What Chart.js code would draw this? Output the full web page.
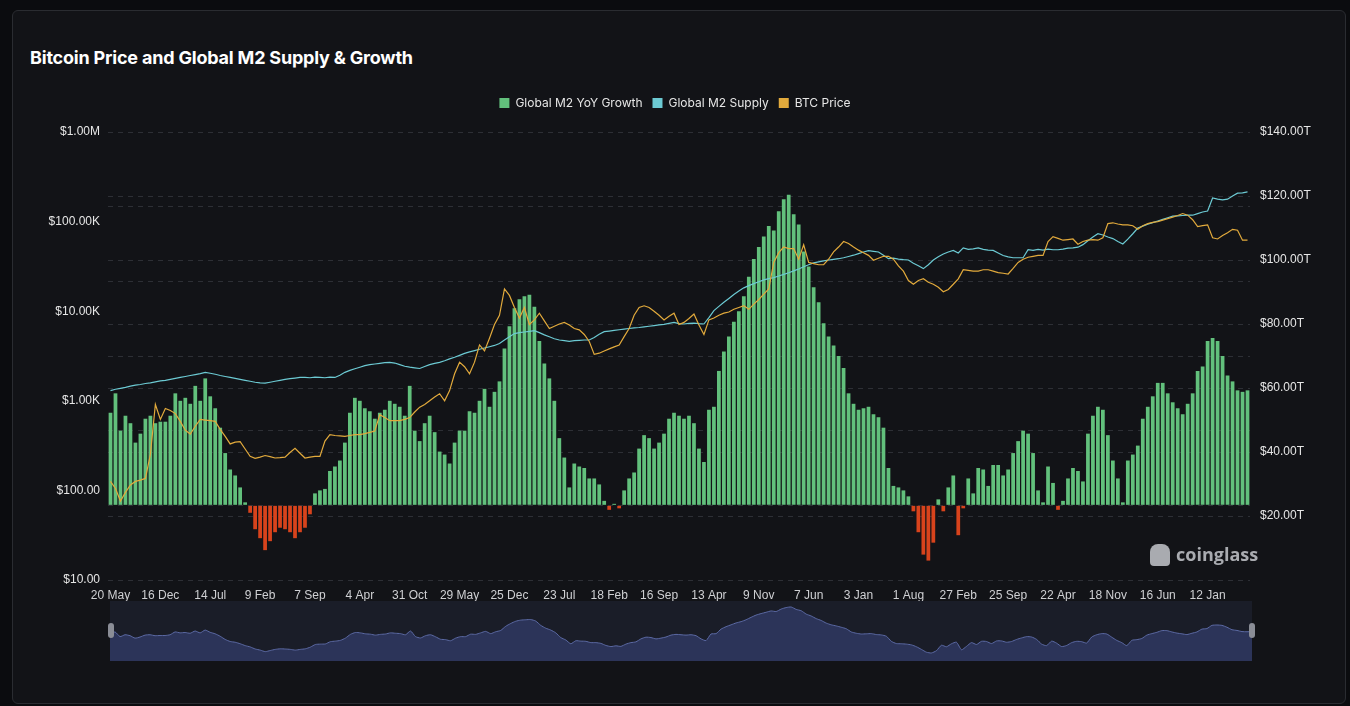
<!DOCTYPE html>
<html><head><meta charset="utf-8">
<script src="https://cdn.jsdelivr.net/npm/chart.js@4.4.1/dist/chart.umd.min.js"></script>
<style>
html,body{margin:0;padding:0;background:#0b0c0f;width:1350px;height:706px;overflow:hidden;font-family:Inter,"Noto Sans",sans-serif}
#card{position:absolute;left:12px;top:10px;width:1332px;height:692px;background:#121317;border:1px solid #2a2c31;border-radius:6px}
#title{position:absolute;left:30px;top:47px;color:#fff;font-weight:700;font-size:18px;letter-spacing:-0.2px}
#main{position:absolute;left:0;top:0}
#navwrap{position:absolute;left:110px;top:601px;width:1142px;height:60px;background:#1a1d28}
#nav{position:absolute;left:0;top:0}
.h{position:absolute;top:623px;width:6px;height:15px;background:#8a8d96;border-radius:3px}
#wm{position:absolute;left:1150px;top:542px;color:#a9abb0;font-weight:700;font-size:18px;font-family:"Open Sans",sans-serif}
#wm span{display:inline-block;width:20px;height:22px;background:#a9abb0;border-radius:8px 8px 4px 4px;vertical-align:-5px;margin-right:6px}
</style></head><body>
<div id="card"></div>
<div id="title">Bitcoin Price and Global M2 Supply &amp; Growth</div>
<canvas id="main" width="1350" height="706"></canvas>
<div id="navwrap"><canvas id="nav" width="1142" height="60"></canvas></div>
<div class="h" style="left:108px"></div><div class="h" style="left:1249px"></div>
<div id="wm"><span></span>coinglass</div>
<script>
const tickLabels=["20 May","16 Dec","14 Jul","9 Feb","7 Sep","4 Apr","31 Oct","29 May","25 Dec","23 Jul","18 Feb","16 Sep","13 Apr","9 Nov","7 Jun","3 Jan","1 Aug","27 Feb","25 Sep","22 Apr","18 Nov","16 Jun","12 Jan"];
const m2Growth=[
6.2,7.5,5.0,6.0,5.5,4.2,4.8,5.8,6.0,5.5,
5.6,5.6,6.0,7.5,7.0,7.2,6.8,8.0,7.0,8.5,
7.3,6.5,5.2,3.5,2.4,2.0,1.2,0.2,-0.5,-1.6,
-2.2,-3.0,-2.4,-1.8,-1.5,-1.6,-1.8,-2.2,-1.8,-1.5,
-0.6,0.8,1.0,1.1,2.3,2.6,3.0,4.2,6.2,7.2,
7.0,6.5,6.3,5.8,6.2,6.4,7.0,6.8,6.6,6.0,
8.0,5.0,4.3,5.5,6.0,4.9,3.6,3.4,2.8,4.2,
5.0,5.0,6.3,6.2,7.0,7.8,6.6,7.6,8.3,10.5,
12.0,13.2,13.8,14.0,14.1,13.3,11.0,9.5,8.5,7.0,
4.5,3.2,1.2,2.8,2.6,2.5,1.8,1.8,1.4,0.3,
-0.3,0.1,-0.2,1.0,1.8,2.2,3.8,4.7,4.5,3.8,
4.2,4.8,5.8,6.2,6.0,5.8,6.0,5.5,3.8,2.9,
6.4,6.6,9.0,10.3,11.3,12.3,13.0,14.0,15.3,16.5,
17.3,18.0,18.7,18.4,19.7,20.5,20.8,19.5,18.8,17.0,
16.0,14.6,13.6,12.2,11.3,10.7,10.0,9.2,7.5,6.8,
6.4,6.5,6.6,6.1,5.9,5.2,2.5,1.3,1.2,1.0,
0.6,-0.4,-1.8,-3.3,-3.7,-2.5,0.4,-0.4,1.2,2.0,
-2.0,-0.2,1.8,0.8,2.5,2.4,1.3,2.7,2.7,2.0,
2.4,3.5,4.3,5.0,4.8,3.5,1.0,0.2,2.6,1.5,
-0.3,0.3,1.8,2.5,2.3,1.6,4.8,6.0,6.6,6.4,
4.7,3.0,1.8,0.2,3.0,3.4,4.0,5.8,6.6,7.3,
8.2,8.2,7.5,6.9,6.5,6.1,6.8,7.5,9.0,9.3,
11.0,11.2,11.0,10.0,8.7,8.3,7.7,7.6,7.7];
const m2Supply=[
59.2,59.6,59.9,60.2,60.6,60.9,61.1,61.4,61.6,61.9,
62.2,62.4,62.7,63.0,63.3,63.6,63.9,64.2,64.5,64.9,
64.6,64.3,63.9,63.6,63.3,63.0,62.7,62.4,62.1,61.8,
61.6,61.5,61.8,62.1,62.4,62.7,62.9,63.1,63.3,63.3,
63.2,63.4,63.3,63.2,63.4,63.3,64.0,64.9,65.5,66.0,
66.5,67.0,67.3,67.5,67.7,67.9,68.0,67.8,67.3,66.8,
66.5,66.3,66.1,66.7,67.3,67.7,68.0,68.5,69.1,69.6,
70.2,70.8,71.3,71.7,72.1,72.5,72.9,73.3,73.9,75.0,
76.0,77.0,77.3,77.5,77.7,77.9,77.3,76.6,76.0,75.4,
75.0,74.8,74.6,74.8,74.9,75.0,75.0,75.8,76.8,77.6,
77.8,78.0,78.2,78.4,78.6,78.8,78.9,79.1,79.3,79.5,
79.7,79.9,80.2,80.5,80.1,80.0,80.2,80.3,80.1,80.0,
82.0,84.2,85.5,86.8,88.0,89.2,90.3,91.3,92.0,92.6,
93.2,93.8,94.2,94.5,95.0,95.5,96.0,96.6,97.2,97.9,
98.5,99.1,99.4,99.7,100.0,100.2,100.4,100.7,101.1,101.5,
102.0,102.5,102.9,102.7,102.5,101.5,100.4,100.6,100.3,100.1,
100.0,99.0,98.2,97.3,98.5,100.0,101.0,101.9,102.5,103.0,
102.2,103.8,103.3,103.5,103.8,103.3,103.1,103.0,102.2,101.4,
101.0,100.7,100.7,100.7,103.2,103.0,103.3,103.1,103.4,103.2,
103.2,103.4,103.7,103.8,104.0,104.8,106.0,107.2,108.2,107.8,
107.2,106.7,105.8,105.0,106.5,108.2,110.0,110.6,111.2,111.7,
112.2,112.7,113.2,113.7,113.8,113.9,114.0,114.0,114.5,115.0,
115.3,119.4,119.0,118.8,119.0,120.0,120.9,121.0,121.3];
const btcPrice=[
126,105,76,95,115,126,130,136,252,910,
620,820,780,720,590,470,425,520,620,610,
600,590,480,400,330,345,350,290,240,228,
235,245,238,230,232,235,265,295,260,230,
235,240,240,355,420,410,405,400,410,420,
420,430,445,460,700,650,600,600,600,620,
650,750,850,910,1000,1100,1200,1000,1300,2000,
2700,2400,2000,2700,4200,3600,5000,7100,9000,17700,
15000,11000,8400,11000,7100,8000,9500,7800,6400,6800,
7200,7500,7000,6400,6200,5500,4600,3300,3400,3600,
3800,4000,4200,5200,6400,9000,11000,11500,11000,10000,
9000,8000,8800,9500,7100,7500,8300,9300,7000,5500,
8000,8400,9000,9500,9800,10500,11000,11500,10500,12000,
13500,15500,17700,35000,45000,52000,50000,50000,38000,55000,
35000,34000,33000,33000,38000,46000,52000,60000,57000,52000,
48000,45000,42000,37000,39000,41000,41000,38000,32000,28000,
22000,20000,22000,23000,21000,20000,18500,16500,17500,20000,
23000,29000,28500,28000,28000,29000,29000,28000,27000,26500,
26000,30000,35000,38000,40000,41000,42000,42000,60000,68000,
65000,62000,63000,64000,56000,60000,62000,63000,62000,66000,
95000,97000,94000,92000,92000,90000,82000,90000,95000,98000,
100000,104000,108000,112000,117000,123000,118000,105000,88000,90000,
92000,66000,64000,70000,75000,82000,80000,62000,62000];

const labels=m2Growth.map((v,i)=>i%10===0?(tickLabels[i/10]||''):'');
const GREEN='#62c07c',RED='#d8431c',CYAN='#6ccad3',ORANGE='#e2aa3c';
const gridDash={color:'#2d2f35',lineWidth:1,drawTicks:false};
function fmtLeft(v){
  if(v>=1e6)return '$'+(v/1e6).toFixed(2)+'M';
  if(v>=1e3)return '$'+(v/1e3).toFixed(2)+'K';
  return '$'+v.toFixed(2);
}
const legendGap={id:'legendGap',afterInit(ch){const l=ch.legend;if(!l)return;const f=l.fit;l.fit=function(){f.call(this);this.height+=13;};}};
new Chart(document.getElementById('main'),{
  data:{labels:labels,datasets:[
    {type:'bar',label:'Global M2 YoY Growth',data:m2Growth,yAxisID:'yg',order:3,
     backgroundColor:ctx=>ctx.raw<0?RED:GREEN,categoryPercentage:1,barPercentage:0.75},
    {type:'line',label:'Global M2 Supply',data:m2Supply,yAxisID:'yr',order:2,borderColor:CYAN,backgroundColor:CYAN,borderWidth:1.2,pointRadius:0,tension:0},
    {type:'line',label:'BTC Price',data:btcPrice,yAxisID:'yl',order:1,borderColor:ORANGE,backgroundColor:ORANGE,borderWidth:1.2,pointRadius:0,tension:0}
  ]},
  options:{responsive:false,animation:false,
    layout:{padding:{top:87,bottom:100,left:0,right:0}},
    plugins:{tooltip:{enabled:false},
      legend:{position:'top',labels:{color:'#e6e6e6',font:{size:12,family:'Inter'},boxWidth:10,boxHeight:10,padding:10,
        sort:(a,b)=>a.datasetIndex-b.datasetIndex,
        generateLabels:ch=>[['Global M2 YoY Growth',GREEN,0],['Global M2 Supply',CYAN,1],['BTC Price',ORANGE,2]].map(a=>({text:a[0],fillStyle:a[1],strokeStyle:a[1],lineWidth:0,datasetIndex:a[2],fontColor:'#e6e6e6'}))}}},
    scales:{
      x:{type:'category',offset:true,grid:{display:false},border:{display:false},
        ticks:{color:'#cfd0d3',font:{size:12},autoSkip:false,maxRotation:0,padding:0,callback:function(v,i){return labels[i];}},
        afterFit:s=>{s.height=26;}},
      yl:{type:'logarithmic',position:'left',min:10,max:1e6,grid:{display:false},border:{display:false},
        afterBuildTicks:s=>{s.ticks=[10,100,1e3,1e4,1e5,1e6].map(v=>({value:v}));},
        ticks:{color:'#e6e6e6',font:{size:12},padding:0,callback:v=>fmtLeft(v)},afterFit:s=>{s.width=108;}},
      yg:{type:'linear',position:'left',min:-5,max:25,grid:Object.assign({},gridDash),border:{display:false,dash:[5,5]},
        ticks:{display:false,stepSize:5},afterFit:s=>{s.width=0;}},
      yr:{type:'linear',position:'right',min:0,max:140,grid:Object.assign({},gridDash),border:{display:false,dash:[5,5]},
        ticks:{color:'#e6e6e6',font:{size:12},padding:10,stepSize:20,callback:v=>v===0?'':'$'+v.toFixed(2)+'T'},afterFit:s=>{s.width=100;}}
    }
  },
  plugins:[legendGap]
});
new Chart(document.getElementById('nav'),{
  type:'line',
  data:{labels:labels,datasets:[{data:m2Growth,borderColor:'#5d6ba6',borderWidth:1,backgroundColor:'#2c3459',fill:'start',pointRadius:0,tension:0.2}]},
  options:{responsive:false,animation:false,layout:{padding:0},plugins:{legend:{display:false},tooltip:{enabled:false}},
    scales:{x:{display:false},y:{display:false,min:-8,max:24}}}
});
</script></body></html>
